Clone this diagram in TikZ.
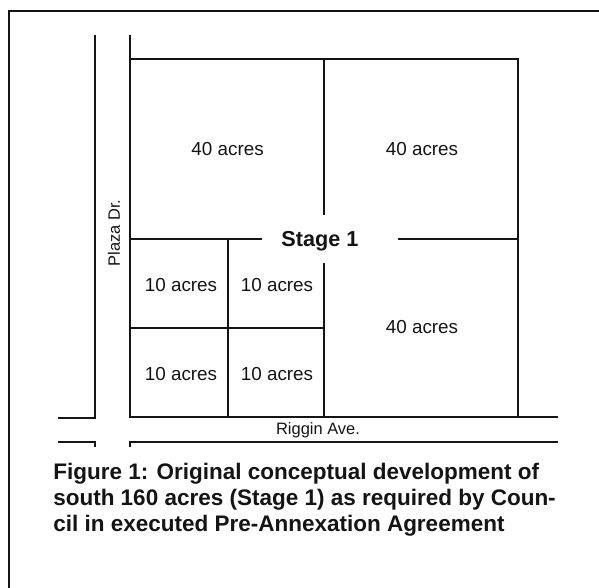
\documentclass[tikz,border=0pt]{standalone}
\usepackage{fontspec}
\setmainfont{Liberation Sans}
\usepackage{xcolor}
\definecolor{ink}{HTML}{141414}

\begin{document}
\begin{tikzpicture}[x=1cm,y=1cm,
    lotlabel/.style={font=\fontsize{13.4}{16}\selectfont,color=ink},
    roadlabel/.style={font=\fontsize{11.7}{14}\selectfont,color=ink},
    roadline/.style={line width=1.1pt,color=ink},
    lotline/.style={line width=1.0pt,color=ink}]
    \path[use as bounding box] (0,0) rectangle (14.975,14.7);
    % page frame
    \draw[line width=0.9pt,color=ink] (0.225,0) -- (0.225,14.425) -- (14.975,14.425);
    % Plaza Dr.
    \draw[roadline] (2.375,13.825) -- (2.375,4.25) -- (1.45,4.25);
    \draw[roadline] (1.45,3.65) -- (2.375,3.65) -- (2.375,3.525);
    \draw[roadline] (3.25,13.825) -- (3.25,13.225);
    \node[roadlabel,rotate=90] (plaza) at (2.85,8.875) {Plaza Dr.};
    % Riggin Ave.
    \draw[roadline] (12.95,4.275) -- (13.95,4.275);
    \draw[roadline] (3.25,3.525) -- (3.25,3.65) -- (13.95,3.65);
    \node[roadlabel] (riggin) at (7.95,3.95) {Riggin Ave.};
    % stage 1 boundary
    \draw[line width=1.5pt,color=ink] (3.25,4.275) rectangle (12.95,13.225);
    % parcel lines
    \draw[lotline] (8.1,13.225) -- (8.1,9.325);
    \draw[lotline] (8.1,8.125) -- (8.1,4.275);
    \draw[lotline] (3.25,8.725) -- (6.55,8.725);
    \draw[lotline] (9.95,8.725) -- (12.95,8.725);
    \draw[lotline] (5.7,8.725) -- (5.7,4.275);
    \draw[lotline] (3.25,6.5) -- (8.1,6.5);
    \node[font=\fontsize{15.4}{18}\selectfont\bfseries,color=ink,anchor=base]
      (stage) at (8.0,8.525) {Stage 1};
    % large parcels
    \node[lotlabel] (northwest) at (5.69,10.975) {40 acres};
    \node[lotlabel] (northeast) at (10.55,10.975) {40 acres};
    \node[lotlabel] (southeast) at (10.55,6.525) {40 acres};
    % small parcels
    \node[lotlabel] (lotA) at (4.525,7.575) {10 acres};
    \node[lotlabel] (lotB) at (6.925,7.575) {10 acres};
    \node[lotlabel] (lotC) at (4.525,5.35) {10 acres};
    \node[lotlabel] (lotD) at (6.925,5.35) {10 acres};
    \node[font=\fontsize{16}{18.5}\selectfont\bfseries,color=ink,
      anchor=north west,inner sep=0pt,align=left] (caption) at (1.325,3.125)
      {Figure 1: Original conceptual development of\\
       south 160 acres (Stage 1) as required by Coun-\\
       cil in executed Pre-Annexation Agreement};
\end{tikzpicture}
\end{document}
